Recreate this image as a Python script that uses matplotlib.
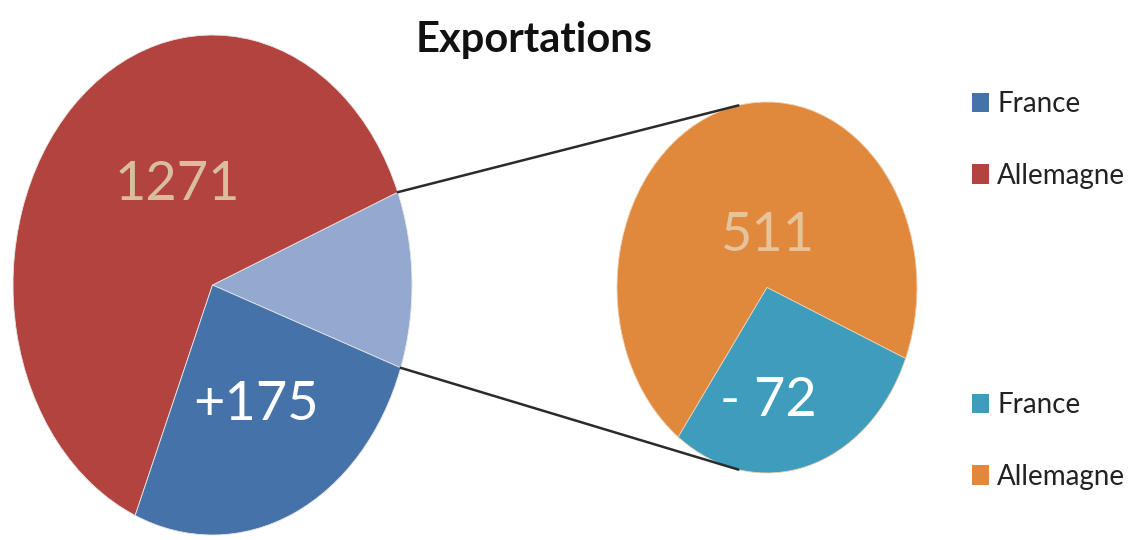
import numpy as np
import matplotlib
matplotlib.use("Agg")
import matplotlib.pyplot as plt
from matplotlib.patches import ConnectionPatch

plt.rcParams['font.family'] = ['Lato', 'DejaVu Sans']

# main pie: part split out, Allemagne, France
main_labels = ['Autres', 'Allemagne', 'France']
main_values = [232, 1271, 527]
main_colors = ['#93A9CF', '#B3433F', '#4572A8']
main_text = ['', '1271', '+175']

# secondary pie: Allemagne, France
sub_labels = ['Allemagne', 'France']
sub_values = [511, 207]
sub_colors = ['#E0893C', '#3E9CBD']
sub_text = ['511', '- 72']

legend_labels = ['France', 'Allemagne']

fig = plt.figure(figsize=(11.42, 5.40), dpi=100)

# axes boxes in pixels (left, top, right, bottom), pies are drawn as ellipses
def box(l, t, r, b):
    return [l / 1142, (540 - b) / 540, (r - l) / 1142, (b - t) / 540]

ax1 = fig.add_axes(box(13, 35, 412, 535))
ax2 = fig.add_axes(box(617, 102, 917, 473))

w1, _ = ax1.pie(main_values, colors=main_colors, startangle=-19.35,
                counterclock=True,
                wedgeprops=dict(edgecolor='#e6e6e6', linewidth=0.6))
w2, _ = ax2.pie(sub_values, colors=sub_colors, startangle=-22.5,
                counterclock=True,
                wedgeprops=dict(edgecolor='#f0d0b0', linewidth=0.6))

for ax in (ax1, ax2):
    ax.set_aspect('auto')
    ax.set_xlim(-1, 1)
    ax.set_ylim(-1, 1)
    ax.axis('off')

# value labels
ax1.text(-0.178, 0.40, main_text[1], color='#D8BE9F', fontsize=39,
         ha='center', va='center')
ax1.text(0.22, -0.48, main_text[2], color='white', fontsize=39,
         ha='center', va='center')
ax2.text(0.0, 0.28, sub_text[0], color='#E6C39A', fontsize=39,
         ha='center', va='center')
ax2.text(0.01, -0.61, sub_text[1], color='white', fontsize=39,
         ha='center', va='center')

# connector lines from the split-out wedge to the secondary pie
t1 = np.radians(w1[0].theta2)
t2 = np.radians(w1[0].theta1)
for ta, tb in ((t1, np.radians(101)), (t2, np.radians(-101))):
    con = ConnectionPatch(xyA=(np.cos(ta), np.sin(ta)), coordsA=ax1.transData,
                          xyB=(np.cos(tb), np.sin(tb)), coordsB=ax2.transData,
                          color='#2b2b2b', linewidth=1.8)
    fig.add_artist(con)

fig.text(534 / 1142, 1 - 40 / 540, 'Exportations', fontsize=30,
         fontweight='bold', ha='center', va='center', color='#111111')

leg_kw = dict(frameon=False, fontsize=20, handlelength=0.6, handleheight=0.7,
              handletextpad=0.3, labelspacing=1.65, borderpad=0,
              borderaxespad=0, loc='upper left', labelcolor='#222222')
leg1 = fig.legend([w1[2], w1[1]], legend_labels,
                  bbox_to_anchor=(972 / 1142, 1 - 91 / 540), **leg_kw)
leg2 = fig.legend([w2[1], w2[0]], legend_labels,
                  bbox_to_anchor=(972 / 1142, 1 - 392 / 540), **leg_kw)
for leg in (leg1, leg2):
    for h in leg.legend_handles:
        h.set_edgecolor('none')

fig.savefig('out.png', dpi=100)
